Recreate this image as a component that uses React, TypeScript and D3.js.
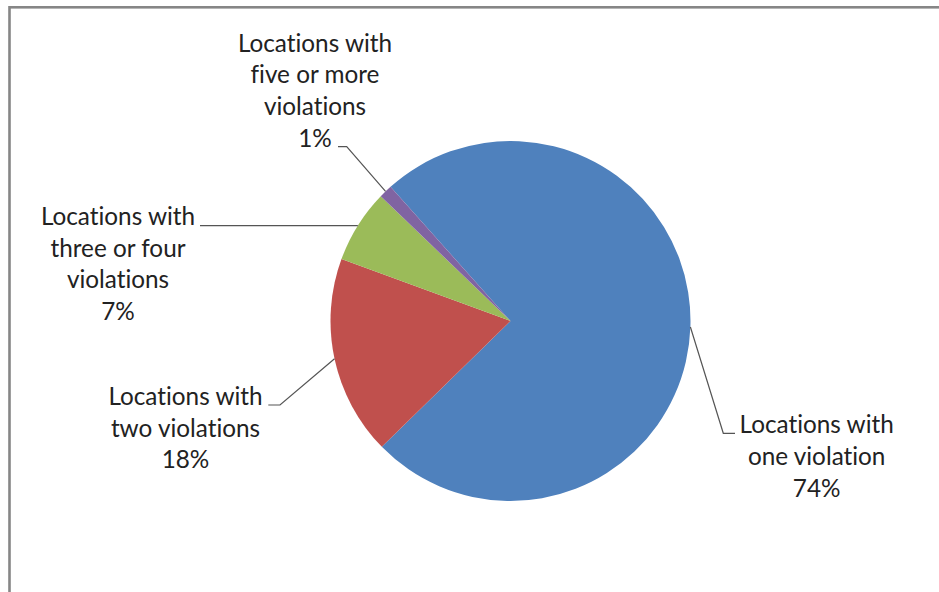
import React from "react";
import * as d3 from "d3";

const categories = [
  "Locations with one violation",
  "Locations with two violations",
  "Locations with three or four violations",
  "Locations with five or more violations",
];
const labelLines = [
  ["Locations with", "one violation"],
  ["Locations with", "two violations"],
  ["Locations with", "three or four", "violations"],
  ["Locations with", "five or more", "violations"],
];
const values = [74.25, 17.9, 6.6, 1.2];
const colors = ["#4F81BD", "#C0504D", "#9BBB59", "#8064A2"];

const W = 939;
const H = 592;
const CX = 510.5;
const CY = 321;
const R = 180;
const START_DEG = 318.2;
const FONT = "Lato, 'Open Sans', sans-serif";
const FS = 24.3;
const LH = 31.7;

// label layout: text center x, first baseline y, leader path (elbow) info
const labelLayout = [
  { cx: 816.7, y0: 433.3, elbow: [723.3, 433.3], end: [735, 433.3] },
  { cx: 185.5, y0: 405, elbow: [280, 405], end: [268.3, 405] },
  { cx: 118, y0: 225, elbow: null, end: [200, 225.6] },
  { cx: 315, y0: 51.7, elbow: [346.7, 146.7], end: [338, 146.7] },
];

export default function App() {
  const total = d3.sum(values);
  const pie = d3
    .pie<number>()
    .sort(null)
    .startAngle((START_DEG * Math.PI) / 180)
    .endAngle((START_DEG * Math.PI) / 180 + 2 * Math.PI);
  const arcs = pie(values);
  const arcGen = d3.arc<d3.PieArcDatum<number>>().innerRadius(0).outerRadius(R);

  return (
    <svg
      width={W}
      height={H}
      style={{ position: "absolute", left: 0, top: 0, fontVariantLigatures: "none" }}
      fontFamily={FONT}
    >
      <rect x={0} y={0} width={W} height={H} fill="#fff" />
      <rect
        x={9.5}
        y={7.3}
        width={1000}
        height={1000}
        fill="none"
        stroke="#868686"
        strokeWidth={2.6}
      />
      <g transform={`translate(${CX},${CY})`}>
        {arcs.map((a, i) => (
          <path key={categories[i]} d={arcGen(a) || ""} fill={colors[i]} />
        ))}
      </g>
      {arcs.map((a, i) => {
        const mid = (a.startAngle + a.endAngle) / 2;
        const px = CX + R * Math.sin(mid);
        const py = CY - R * Math.cos(mid);
        const L = labelLayout[i];
        const pts: [number, number][] = [[px, py]];
        if (L.elbow) pts.push(L.elbow as [number, number]);
        pts.push(L.end as [number, number]);
        const pct = Math.round((values[i] / total) * 100) + "%";
        const lines = [...labelLines[i], pct];
        return (
          <g key={"l" + i}>
            <path
              d={d3.line()(pts) || ""}
              fill="none"
              stroke="#555"
              strokeWidth={1.2}
            />
            <text
              textAnchor="middle"
              fontSize={FS}
              fill="#222"
              style={{ fontVariantLigatures: "none" }}
            >
              {lines.map((t, j) => (
                <tspan key={j} x={L.cx} y={L.y0 + j * LH}>
                  {t}
                </tspan>
              ))}
            </text>
          </g>
        );
      })}
    </svg>
  );
}
